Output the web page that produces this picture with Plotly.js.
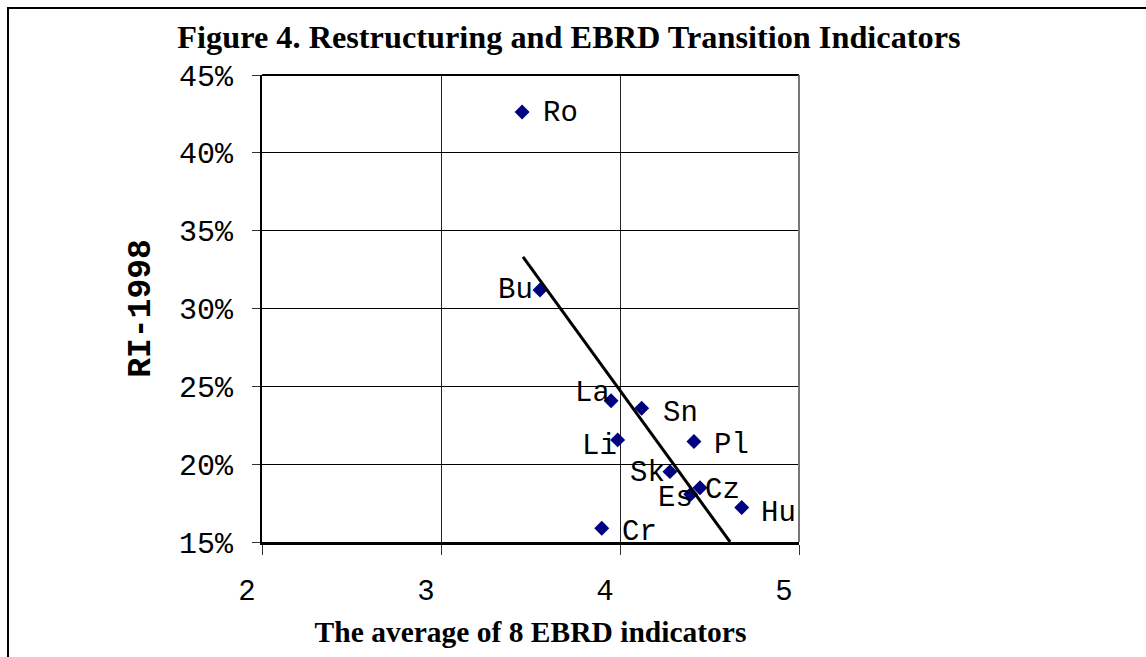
<!DOCTYPE html>
<html>
<head>
<meta charset="utf-8">
<script src="https://cdn.plot.ly/plotly-3.0.1.min.js"></script>
<style>
html,body{margin:0;padding:0;background:#fff;}
#chart{width:1146px;height:657px;}
#frame{position:absolute;left:7px;top:7px;width:1200px;height:700px;border-left:2px solid #000;border-top:2px solid #000;pointer-events:none;}
</style>
</head>
<body>
<div id="chart"></div>
<div id="frame"></div>
<script>
// Data
const countries = ["Ro","Bu","La","Sn","Li","Pl","Sk","Es","Cz","Hu","Cr"];
const ebrdAvg   = [3.453, 3.553, 3.950, 4.121, 3.987, 4.413, 4.279, 4.395, 4.447, 4.680, 3.898];
const ri1998    = [0.4262, 0.3119, 0.2408, 0.2359, 0.2156, 0.2145, 0.1952, 0.1807, 0.1849, 0.1721, 0.1589];
// Linear trend line endpoints (as drawn)
const trendX = [3.458, 4.615];
const trendY = [0.3331, 0.150];
const xTicks = [2, 3, 4, 5];
const yTicks = [0.15, 0.20, 0.25, 0.30, 0.35, 0.40, 0.45];

// Label placement (style only)
const labelSide = ["r","l","l","r","l","r","l","l","r","r","r"];
const labelDX   = [19, -5, 1, 19, 1, 18, -3, 4, 3, 17, 18];
const labelDY   = [-1, -1, 7, -5, -7, -4, -2, -4, -3, -6, -4];

const mono = "Liberation Mono, Courier New, monospace";
const serif = "Liberation Serif, Times New Roman, serif";

const annotations = countries.map((c, i) => ({
  x: ebrdAvg[i], y: ri1998[i], xref: "x", yref: "y",
  text: c, showarrow: false,
  xanchor: labelSide[i] === "r" ? "left" : "right",
  yanchor: "middle",
  xshift: labelDX[i], yshift: labelDY[i],
  font: {family: mono, size: 29, color: "#000"}
}));

const traces = [
  {
    x: ebrdAvg, y: ri1998, type: "scatter", mode: "markers",
    marker: {symbol: "diamond", size: 11.5, color: "#000080"},
    hoverinfo: "skip", cliponaxis: false
  },
  {
    x: trendX, y: trendY, type: "scatter", mode: "lines",
    line: {color: "#000", width: 3}, hoverinfo: "skip"
  }
];

const layout = {
  width: 1146, height: 657,
  paper_bgcolor: "#fff", plot_bgcolor: "#fff",
  showlegend: false,
  margin: {l: 262, r: 347, t: 75, b: 115},
  title: {
    text: "<b>Figure 4. Restructuring and EBRD Transition Indicators</b>",
    font: {family: serif, size: 32.3, color: "#000"},
    xref: "container", yref: "container",
    x: 569/1146, xanchor: "center",
    y: 1 - 37/657, yanchor: "middle"
  },
  xaxis: {
    range: [2, 5], tickvals: xTicks, ticktext: xTicks.map(String),
    showgrid: true, gridcolor: "#222", gridwidth: 1,
    zeroline: false, showline: true, linecolor: "#000", linewidth: 3,
    ticks: "outside", ticklen: 10, tickcolor: "#333", tickwidth: 1,
    ticklabelshift: -15, ticklabelstandoff: 10,
    tickfont: {family: mono, size: 29, color: "#000"},
    title: {text: "<b>The average of 8 EBRD indicators</b>",
            font: {family: serif, size: 29.5, color: "#000"}, standoff: 14}
  },
  yaxis: {
    range: [0.15, 0.45], tickvals: yTicks, tickformat: ".0%",
    showgrid: true, gridcolor: "#000", gridwidth: 1,
    zeroline: false, showline: true, linecolor: "#000", linewidth: 2,
    ticks: "outside", ticklen: 8, tickcolor: "#333", tickwidth: 1,
    ticklabelstandoff: 13,
    tickfont: {family: mono, size: 30, color: "#000"},
    title: {text: "<b>RI-1998</b>",
            font: {family: mono, size: 33, color: "#000"}, standoff: 18}
  },
  shapes: [
    {type: "line", xref: "paper", yref: "paper", x0: 0, x1: 1, y0: 1, y1: 1,
     line: {color: "#000", width: 2}},
    {type: "line", xref: "paper", yref: "paper", x0: 1, x1: 1, y0: 0, y1: 1,
     line: {color: "#777", width: 2}}
  ],
  annotations: annotations
};

Plotly.newPlot("chart", traces, layout, {staticPlot: true, displayModeBar: false});
</script>
</body>
</html>
